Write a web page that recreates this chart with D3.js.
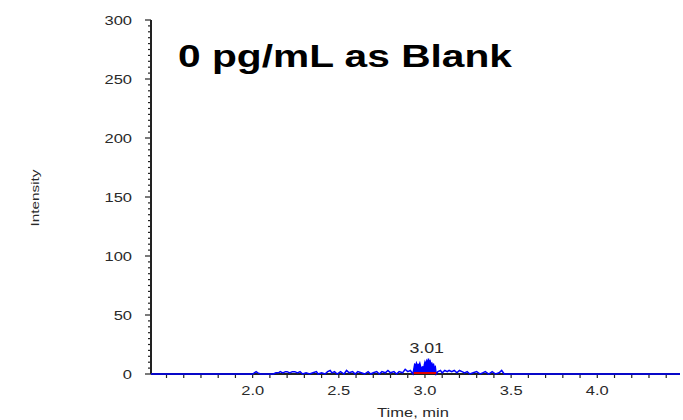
<!DOCTYPE html>
<html lang="en">
<head>
    <meta charset="UTF-8">
    <title>0 pg/mL as Blank</title>
    <script src="https://cdn.jsdelivr.net/npm/d3@7"></script>
    <style>
        body { margin: 0; background: #fff; }
    </style>
</head>
<body>
    <div id="container"></div>
    <script>
        const width = 683;
        const height = 420;

        // retention time (min) / intensity (cps)
        const retentionTimes = [1.41, 2.00, 2.02, 2.03, 2.045, 2.12, 2.135, 2.15, 2.16, 2.175, 2.19, 2.20, 2.215, 2.23, 2.245, 2.26, 2.275, 2.29, 2.31, 2.33, 2.35, 2.37, 2.38, 2.40, 2.42, 2.435, 2.45, 2.46, 2.475, 2.49, 2.51, 2.53, 2.545, 2.56, 2.58, 2.595, 2.61, 2.63, 2.65, 2.67, 2.685, 2.70, 2.72, 2.735, 2.75, 2.77, 2.785, 2.80, 2.82, 2.835, 2.85, 2.87, 2.885, 2.90, 2.915, 2.93,
            2.935, 2.94, 2.945, 2.95, 2.955, 2.96, 2.965, 2.97, 2.975, 2.98, 2.985, 2.99, 2.995, 3.00, 3.005, 3.01, 3.015, 3.02, 3.025, 3.03, 3.035, 3.04, 3.045, 3.05, 3.055, 3.06, 3.065,
            3.075, 3.09, 3.10, 3.115, 3.13, 3.14, 3.155, 3.17, 3.185, 3.20, 3.215, 3.23, 3.245, 3.26, 3.28, 3.30, 3.32, 3.335, 3.35, 3.37, 3.39, 3.41, 3.43, 3.445, 3.46, 4.48];
        const intensities = [0, 0, 2, 1, 0, 0, 1, 1, 2, 1, 2, 2, 1, 2, 2, 1, 2, 0, 1, 0, 1, 2, 0, 1, 0, 2, 3, 1, 2, 0, 2, 0, 3, 1, 2, 0, 2, 1, 0, 2, 0, 1, 2, 0, 2, 1, 3, 1, 2, 0, 2, 1, 4, 2, 3, 0,
            4, 8, 7, 9, 6, 8, 7, 9, 6, 5, 6, 5, 7, 10, 8, 11, 9, 13, 10, 11, 8, 9, 7, 8, 5, 6, 0,
            2, 3, 1, 3, 2, 3, 2, 3, 1, 3, 2, 1, 2, 0, 1, 2, 0, 1, 2, 0, 2, 0, 1, 3, 0, 0];

        const peakStart = 2.935;
        const peakEnd = 3.065;
        const peakLabel = "3.01";

        const xTickLabels = [2.0, 2.5, 3.0, 3.5, 4.0];
        const yTickLabels = [0, 50, 100, 150, 200, 250, 300];

        const data = retentionTimes.map((t, i) => ({ t: t, v: intensities[i] }));

        const x = d3.scaleLinear().domain([1.41, 4.48]).range([151, 680]);
        const y = d3.scaleLinear().domain([0, 300]).range([374, 20]);

        const svg = d3.select('#container').append('svg')
            .attr('width', width)
            .attr('height', height)
            .attr('font-family', 'Arial, "Liberation Sans", sans-serif');

        // the original picture is stretched sideways, so text gets a horizontal scale
        const sx = 1.27;
        function label(parent, px, py, str, size, anchor) {
            return parent.append('text')
                .attr('transform', `translate(${px},${py}) scale(${sx},1)`)
                .attr('text-anchor', anchor)
                .attr('font-size', size)
                .attr('fill', '#2a2a2a')
                .text(str);
        }

        // y axis
        const yMinor = d3.range(0, 301, 5);
        const yAxis = svg.append('g').attr('transform', 'translate(151,0)');
        yAxis.selectAll('line.tick')
            .data(yMinor)
            .join('line')
            .attr('class', 'tick')
            .attr('x1', d => d % 50 === 0 ? -6 : -3)
            .attr('x2', 0)
            .attr('y1', d => y(d))
            .attr('y2', d => y(d))
            .attr('stroke', '#222')
            .attr('stroke-width', 1.2);
        yAxis.append('line')
            .attr('y1', y(300)).attr('y2', y(0))
            .attr('stroke', '#222').attr('stroke-width', 2);
        yTickLabels.forEach(d => label(yAxis, -19, y(d) + 4.5, d, 13, 'end'));

        // x axis
        const xMinor = d3.range(15, 45).map(d => d / 10);
        const xAxis = svg.append('g').attr('transform', 'translate(0,374)');
        xAxis.selectAll('line.tick')
            .data(xMinor)
            .join('line')
            .attr('class', 'tick')
            .attr('x1', d => x(d))
            .attr('x2', d => x(d))
            .attr('y1', 0)
            .attr('y2', 4)
            .attr('stroke', '#222')
            .attr('stroke-width', 1.2);
        xAxis.append('line')
            .attr('x1', 151).attr('x2', 680)
            .attr('stroke', '#222').attr('stroke-width', 2);
        xTickLabels.forEach(d => label(xAxis, x(d), 21, d3.format('.1f')(d), 13, 'middle'));

        // axis titles
        label(svg, 413, 417, 'Time, min', 13, 'middle');
        svg.append('text')
            .attr('transform', 'translate(39,198) rotate(-90)')
            .attr('text-anchor', 'middle')
            .attr('font-size', 11)
            .attr('textLength', 57)
            .attr('lengthAdjust', 'spacingAndGlyphs')
            .attr('fill', '#2a2a2a')
            .text('Intensity');

        // filled integrated peak
        const peakData = data.filter(d => d.t >= peakStart && d.t <= peakEnd);
        svg.append('path')
            .datum(peakData)
            .attr('fill', '#0000ff')
            .attr('d', d3.area().x(d => x(d.t)).y0(y(0)).y1(d => y(d.v)));

        // trace
        svg.append('path')
            .datum(data)
            .attr('fill', 'none')
            .attr('stroke', '#0000ff')
            .attr('stroke-width', 1.5)
            .attr('d', d3.line().x(d => x(d.t)).y(d => y(d.v)));

        // peak baseline
        svg.append('line')
            .attr('x1', x(peakStart)).attr('x2', x(peakEnd))
            .attr('y1', y(0) - 1).attr('y2', y(0) - 1)
            .attr('stroke', '#e00000').attr('stroke-width', 2);

        label(svg, x(3.01), 353, peakLabel, 14, 'middle');

        // title
        svg.append('text')
            .attr('x', 178)
            .attr('y', 67)
            .attr('font-size', 32)
            .attr('font-weight', 'bold')
            .attr('textLength', 334)
            .attr('lengthAdjust', 'spacingAndGlyphs')
            .attr('fill', '#000')
            .text('0 pg/mL as Blank');
    </script>
</body>
</html>
